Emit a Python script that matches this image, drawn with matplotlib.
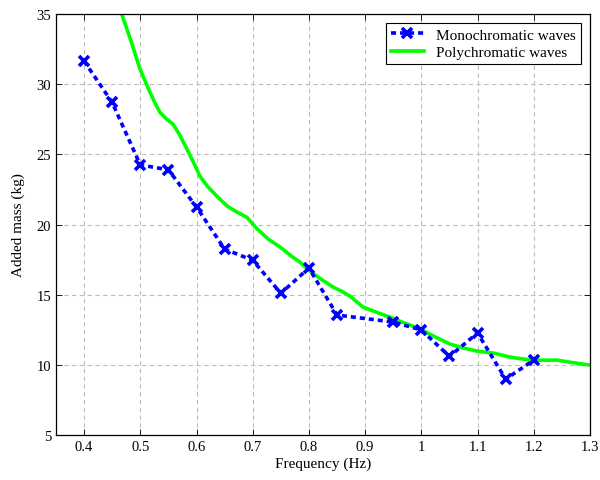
import matplotlib
matplotlib.use("Agg")
import matplotlib.pyplot as plt

plt.rcParams['font.family'] = ['Liberation Serif', 'DejaVu Serif']

# Monochromatic wave tests
mono_freq = [0.4, 0.45, 0.5, 0.55, 0.6, 0.65, 0.7, 0.75, 0.8, 0.85, 0.95, 1.0, 1.05, 1.1, 1.15, 1.2]
mono_mass = [31.65, 28.7, 24.25, 23.9, 21.25, 18.25, 17.45, 15.1, 16.9, 13.55, 13.05, 12.48, 10.6, 12.27, 8.98, 10.34]

# Polychromatic wave estimate
poly_freq = [0.45, 0.467, 0.485, 0.4995, 0.517, 0.527, 0.535, 0.547, 0.558, 0.57, 0.583, 0.595,
             0.606, 0.62, 0.636, 0.655, 0.672, 0.69, 0.708, 0.728, 0.749, 0.767, 0.784, 0.798,
             0.82, 0.843, 0.858, 0.873, 0.896, 0.92, 0.944, 0.97, 0.998, 1.025, 1.051, 1.075,
             1.099, 1.128, 1.158, 1.18, 1.199, 1.22, 1.241, 1.27, 1.3]
poly_mass = [37.0, 35.0, 32.9, 31.08, 29.44, 28.6, 28.0, 27.5, 27.16, 26.4, 25.38, 24.4,
             23.45, 22.7, 22.03, 21.3, 20.89, 20.5, 19.68, 18.95, 18.39, 17.8, 17.32, 16.8,
             16.15, 15.54, 15.25, 14.9, 14.12, 13.75, 13.4, 12.98, 12.55, 11.98, 11.48, 11.2,
             10.98, 10.84, 10.55, 10.42, 10.34, 10.33, 10.34, 10.15, 9.98]

fig = plt.figure(figsize=(6, 4.81), dpi=100)
ax = fig.add_axes([0.0933, 0.0936, 0.89, 0.875])

ax.plot(mono_freq, mono_mass, color='#0000ff', linestyle=(0, (1.4, 1.1)), linewidth=2.6,
        marker='x', markersize=7, markeredgewidth=2.6, label='Monochromatic waves', zorder=3)
ax.plot(poly_freq, poly_mass, color='#00ff00', linewidth=2.6, label='Polychromatic waves',
        zorder=2, solid_joinstyle='round')

ax.set_xlim(0.35, 1.3)
ax.set_ylim(5, 35)
ax.set_xticks([0.4, 0.5, 0.6, 0.7, 0.8, 0.9, 1.0, 1.1, 1.2, 1.3])
ax.set_xticklabels(['0.4', '0.5', '0.6', '0.7', '0.8', '0.9', '1', '1.1', '1.2', '1.3'])
ax.set_yticks([5, 10, 15, 20, 25, 30, 35])
ax.tick_params(direction='in', top=True, right=True, length=4, width=0.6, labelsize=10.5)
ax.grid(True, color='#bdbdbd', linestyle=(0, (4, 3)), linewidth=0.8)
ax.set_axisbelow(True)
for s in ax.spines.values():
    s.set_linewidth(0.9)

ax.set_xlabel('Frequency (Hz)', fontsize=11, labelpad=3)
ax.set_ylabel('Added mass (kg)', fontsize=11, labelpad=8)

leg = ax.legend(loc='upper right', fontsize=11, fancybox=False, edgecolor='black',
                framealpha=1, borderaxespad=0.6, handlelength=2.2, borderpad=0.3,
                labelspacing=0.25)
leg.get_frame().set_linewidth(0.8)

fig.savefig('out.png', dpi=100)
